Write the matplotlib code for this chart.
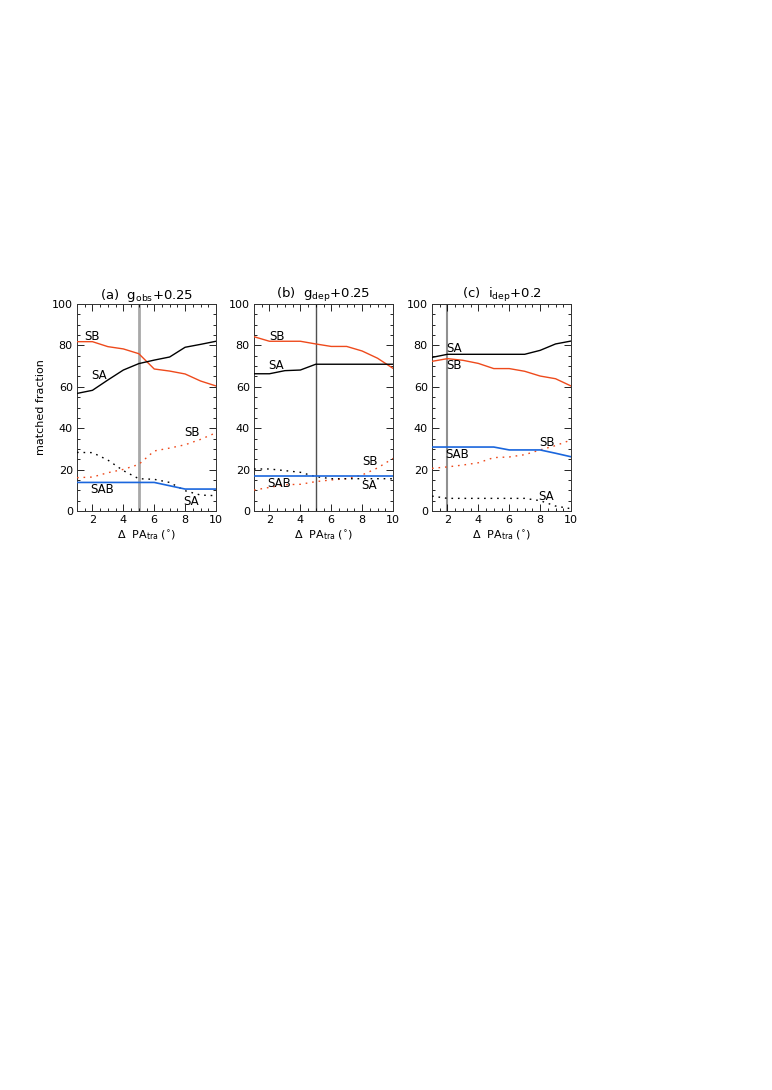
import matplotlib
matplotlib.use("Agg")
import matplotlib.pyplot as plt
from matplotlib.ticker import MultipleLocator

plt.rcParams['font.family'] = ['DejaVu Sans']
plt.rcParams['mathtext.default'] = 'regular'

x = [1, 2, 3, 4, 5, 6, 7, 8, 9, 10]

# Panel (a) g_obs+0.25
a_SB = [81.8, 81.8, 79.4, 78.3, 76.0, 68.6, 67.6, 66.2, 62.8, 60.4]
a_SA = [56.8, 58.3, 63.3, 68.1, 71.2, 72.9, 74.4, 79.1, 80.5, 82.0]
a_SB_dot = [16.1, 16.4, 18.5, 20.1, 22.5, 29.0, 30.4, 32.0, 34.6, 37.8]
a_SA_dot = [28.3, 28.2, 24.6, 19.5, 15.6, 15.3, 13.8, 9.8, 7.7, 7.4]
a_SAB = [13.8, 13.8, 13.8, 13.8, 13.8, 13.8, 12.2, 10.6, 10.6, 10.6]

# Panel (b) g_dep+0.25
b_SB = [84.2, 82.0, 82.0, 82.0, 80.7, 79.5, 79.5, 77.3, 73.8, 68.9]
b_SA = [66.3, 66.3, 67.8, 68.1, 70.9, 70.9, 70.9, 70.9, 70.9, 70.9]
b_SB_dot = [10.1, 11.4, 12.7, 12.9, 14.2, 15.0, 15.6, 17.4, 20.8, 25.4]
b_SA_dot = [20.3, 20.3, 19.5, 18.7, 16.6, 15.6, 15.6, 15.6, 15.6, 15.6]
b_SAB = [16.7, 16.7, 16.7, 16.7, 16.7, 16.7, 16.7, 16.7, 16.7, 16.7]

# Panel (c) i_dep+0.2
c_SB = [72.3, 73.6, 72.8, 71.3, 68.8, 68.8, 67.5, 65.2, 63.9, 60.4]
c_SA = [74.2, 75.7, 75.7, 75.7, 75.7, 75.7, 75.7, 77.6, 80.7, 82.1]
c_SB_dot = [20.6, 21.3, 22.2, 23.3, 25.8, 26.1, 27.2, 29.5, 31.6, 34.3]
c_SA_dot = [7.2, 6.1, 6.1, 6.1, 6.1, 6.1, 6.1, 5.0, 2.4, 1.1]
c_SAB = [30.9, 30.9, 30.9, 30.9, 30.9, 29.5, 29.5, 29.5, 27.9, 26.2]

titles = [r"(a)  g$_{obs}$+0.25", r"(b)  g$_{dep}$+0.25", r"(c)  i$_{dep}$+0.2"]
vlines = [5, 5, 2]
vcolors = ['#a8a8a8', '#505050', '#909090']
vwidths = [2.0, 1.0, 1.5]

labels_pos = [
    [("SB", 2.0, 84.2), ("SA", 2.4, 65.7), ("SB", 8.45, 37.8), ("SAB", 2.6, 10.5), ("SA", 8.4, 4.5)],
    [("SB", 2.5, 84.5), ("SA", 2.45, 70.5), ("SB", 8.5, 23.8), ("SAB", 2.65, 13.4), ("SA", 8.45, 12.1)],
    [("SA", 2.4, 78.6), ("SB", 2.4, 70.4), ("SB", 8.43, 33.2), ("SAB", 2.64, 27.5), ("SA", 8.4, 6.8)],
]

data = [
    (a_SB, a_SA, a_SB_dot, a_SA_dot, a_SAB),
    (b_SB, b_SA, b_SB_dot, b_SA_dot, b_SAB),
    (c_SB, c_SA, c_SB_dot, c_SA_dot, c_SAB),
]

RED = '#ee4a1c'
BLUE = '#1a66dd'

fig = plt.figure(figsize=(7.72, 10.9), dpi=100)
lefts = [77 / 772, 254 / 772, 432 / 772]
w = 139 / 772
bottom = 1 - 511 / 1090
h = 207 / 1090

for i in range(3):
    ax = fig.add_axes([lefts[i], bottom, w, h])
    SB, SA, SBd, SAd, SAB = data[i]
    ax.axvline(vlines[i], color=vcolors[i], lw=vwidths[i], zorder=1)
    ax.plot(x, SB, color=RED, lw=1.0, zorder=3)
    ax.plot(x, SA, color='black', lw=1.0, zorder=3)
    ax.plot(x, SBd, color=RED, lw=1.0, linestyle=(0, (1.2, 3.5)), zorder=3)
    ax.plot(x, SAd, color='black', lw=1.0, linestyle=(0, (1.2, 3.5)), zorder=3)
    ax.plot(x, SAB, color=BLUE, lw=1.2, zorder=3)
    for (t, tx, ty) in labels_pos[i]:
        ax.text(tx, ty, t, fontsize=8.5, ha='center', va='center', zorder=4)
    ax.set_xlim(1, 10)
    ax.set_ylim(0, 100)
    ax.xaxis.set_major_locator(MultipleLocator(2))
    ax.xaxis.set_minor_locator(MultipleLocator(0.5))
    ax.yaxis.set_major_locator(MultipleLocator(20))
    ax.yaxis.set_minor_locator(MultipleLocator(5))
    ax.tick_params(which='both', direction='in', top=True, right=True,
                   labelsize=8, width=0.6, pad=3)
    ax.tick_params(which='major', length=5)
    ax.tick_params(which='minor', length=2.5)
    for s in ax.spines.values():
        s.set_linewidth(0.7)
        s.set_color('#333333')
    ax.set_title(titles[i], fontsize=9.5, pad=2)
    ax.set_xlabel(r"$\Delta$  PA$_{tra}$ ($^{\circ}$)", fontsize=8, labelpad=2)
    if i == 0:
        ax.set_ylabel("matched fraction", fontsize=8, labelpad=4)

fig.savefig("out.png", dpi=100)
